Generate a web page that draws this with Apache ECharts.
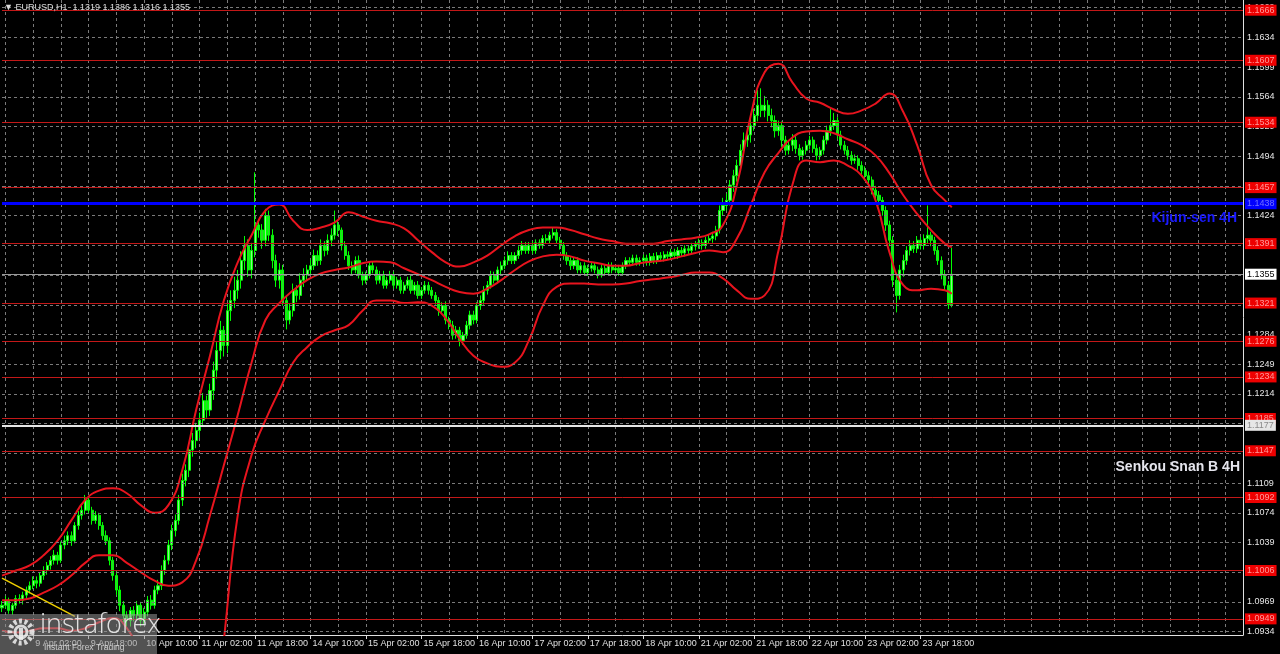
<!DOCTYPE html>
<html><head><meta charset="utf-8">
<script src="https://cdn.jsdelivr.net/npm/echarts@6/dist/echarts.min.js"></script>
<style>html,body{margin:0;padding:0;background:#000;}#c{width:1280px;height:654px;}</style>
</head><body><div id="c"></div>
<script>
// EURUSD H1 candles, prices x 10000
const opens = [10962,10965,10971,10959,10965,10973,10971,10977,10983,10988,
10994,10991,11000,11006,11012,11018,11024,11018,11036,11041,
11047,11041,11059,11071,11077,11089,11077,11065,11071,11059,
11047,11041,11018,11000,10983,10965,10953,10947,10959,10953,
10965,10947,10957,10971,10965,10983,10988,11006,11018,11036,
11053,11065,11089,11112,11124,11148,11159,11171,11183,11206,
11195,11218,11242,11265,11289,11271,11312,11324,11336,11348,
11371,11389,11360,11383,11413,11407,11395,11424,11401,11371,
11348,11360,11324,11301,11312,11336,11330,11348,11354,11360,
11365,11377,11371,11389,11383,11395,11401,11413,11407,11389,
11377,11365,11360,11371,11354,11348,11354,11365,11360,11348,
11354,11342,11348,11354,11342,11348,11336,11342,11348,11336,
11342,11330,11336,11342,11336,11330,11324,11312,11318,11301,
11295,11283,11289,11277,11283,11295,11307,11301,11318,11324,
11336,11342,11354,11348,11360,11365,11371,11377,11371,11377,
11383,11389,11383,11389,11383,11392,11389,11397,11395,11401,
11404,11395,11389,11377,11371,11365,11371,11360,11365,11357,
11362,11365,11360,11354,11362,11357,11365,11360,11362,11357,
11365,11371,11369,11374,11369,11371,11374,11369,11376,11371,
11377,11374,11378,11376,11381,11377,11383,11380,11385,11383,
11388,11390,11392,11389,11395,11397,11400,11407,11430,11436,
11442,11460,11471,11483,11501,11513,11519,11530,11542,11554,
11548,11554,11542,11536,11524,11530,11513,11501,11507,11513,
11503,11495,11501,11507,11513,11503,11495,11501,11513,11524,
11530,11536,11519,11507,11501,11495,11489,11491,11483,11477,
11471,11466,11454,11448,11442,11430,11413,11395,11348,11330,
11360,11371,11383,11389,11385,11395,11389,11397,11401,11395,
11383,11371,11354,11342,11319];
const highs = [10970,10976,10974,10968,10977,10978,10981,10987,10993,10999,
10999,11004,11011,11016,11023,11030,11028,11040,11047,11052,
11052,11063,11076,11083,11095,11092,11081,11076,11074,11063,
11053,11045,11022,11005,10988,10970,10958,10963,10964,10970,
10969,10962,10976,10977,10988,10995,11012,11024,11042,11060,
11072,11095,11120,11131,11156,11168,11180,11192,11215,11212,
11226,11252,11275,11300,11294,11320,11336,11352,11360,11382,
11400,11396,11392,11475,11420,11414,11432,11430,11408,11378,
11368,11366,11330,11320,11344,11342,11356,11362,11366,11372,
11384,11383,11396,11394,11402,11409,11430,11418,11410,11394,
11382,11370,11376,11377,11358,11358,11370,11370,11364,11359,
11359,11352,11359,11358,11352,11352,11346,11352,11353,11346,
11347,11340,11347,11346,11340,11334,11328,11322,11323,11305,
11300,11294,11293,11287,11300,11312,11312,11322,11330,11341,
11347,11359,11358,11364,11370,11376,11382,11381,11381,11388,
11394,11393,11393,11394,11396,11396,11401,11402,11405,11410,
11408,11399,11393,11381,11375,11375,11375,11369,11369,11366,
11369,11369,11364,11366,11366,11369,11369,11366,11366,11369,
11375,11375,11378,11378,11375,11378,11378,11380,11380,11381,
11381,11382,11382,11385,11385,11387,11387,11389,11389,11392,
11394,11397,11396,11399,11402,11405,11412,11436,11445,11450,
11466,11478,11490,11508,11522,11528,11538,11550,11572,11574,
11565,11560,11550,11542,11536,11535,11518,11512,11520,11518,
11508,11505,11512,11518,11517,11508,11505,11518,11530,11550,
11545,11540,11524,11512,11506,11500,11496,11495,11488,11482,
11476,11470,11459,11453,11446,11435,11418,11400,11356,11366,
11378,11388,11395,11394,11400,11399,11402,11436,11405,11399,
11388,11376,11360,11347,11386];
const lows = [10957,10961,10955,10954,10961,10967,10966,10972,10979,10984,
10985,10987,10995,11001,11007,11013,11013,11015,11031,11036,
11035,11038,11054,11066,11072,11073,11060,11061,11054,11042,
11036,11012,10994,10977,10958,10945,10937,10940,10946,10948,
10940,10942,10952,10960,10961,10978,10983,11001,11013,11030,
11046,11060,11082,11105,11116,11140,11150,11162,11176,11186,
11188,11207,11232,11255,11258,11262,11300,11315,11326,11338,
11360,11352,11350,11375,11398,11385,11388,11394,11362,11340,
11338,11318,11290,11296,11305,11322,11325,11340,11347,11353,
11360,11365,11366,11376,11378,11388,11396,11400,11383,11372,
11360,11354,11356,11350,11342,11344,11350,11356,11343,11344,
11338,11338,11344,11338,11338,11332,11332,11338,11332,11331,
11326,11326,11332,11331,11326,11319,11306,11308,11296,11290,
11278,11279,11270,11272,11279,11290,11296,11297,11313,11319,
11331,11338,11344,11344,11355,11361,11366,11367,11367,11373,
11378,11379,11379,11379,11379,11385,11385,11391,11391,11397,
11391,11384,11372,11366,11360,11361,11356,11356,11353,11353,
11358,11356,11350,11351,11353,11353,11356,11357,11353,11353,
11361,11365,11365,11365,11365,11367,11365,11365,11367,11367,
11370,11370,11372,11372,11373,11373,11376,11376,11379,11379,
11383,11385,11384,11385,11391,11392,11395,11403,11424,11430,
11436,11452,11464,11476,11494,11505,11510,11524,11535,11540,
11540,11535,11528,11516,11518,11505,11495,11496,11500,11497,
11489,11490,11496,11502,11498,11489,11490,11496,11508,11518,
11525,11514,11502,11496,11490,11484,11485,11478,11472,11465,
11460,11449,11442,11436,11424,11406,11388,11340,11310,11325,
11352,11366,11377,11380,11380,11384,11384,11391,11388,11378,
11366,11349,11336,11314,11316];
const closes = [10965,10971,10959,10965,10973,10971,10977,10983,10988,10994,
10991,11000,11006,11012,11018,11024,11018,11036,11041,11047,
11041,11059,11071,11077,11089,11077,11065,11071,11059,11047,
11041,11018,11000,10983,10965,10953,10947,10959,10953,10965,
10947,10957,10971,10965,10983,10988,11006,11018,11036,11053,
11065,11089,11112,11124,11148,11159,11171,11183,11206,11195,
11218,11242,11265,11289,11271,11312,11324,11336,11348,11371,
11389,11360,11383,11413,11407,11395,11424,11401,11371,11348,
11360,11324,11301,11312,11336,11330,11348,11354,11360,11365,
11377,11371,11389,11383,11395,11401,11413,11407,11389,11377,
11365,11360,11371,11354,11348,11354,11365,11360,11348,11354,
11342,11348,11354,11342,11348,11336,11342,11348,11336,11342,
11330,11336,11342,11336,11330,11324,11312,11318,11301,11295,
11283,11289,11277,11283,11295,11307,11301,11318,11324,11336,
11342,11354,11348,11360,11365,11371,11377,11371,11377,11383,
11389,11383,11389,11383,11392,11389,11397,11395,11401,11404,
11395,11389,11377,11371,11365,11371,11360,11365,11357,11362,
11365,11360,11354,11362,11357,11365,11360,11362,11357,11365,
11371,11369,11374,11369,11371,11374,11369,11376,11371,11377,
11374,11378,11376,11381,11377,11383,11380,11385,11383,11388,
11390,11392,11389,11395,11397,11400,11407,11430,11436,11442,
11460,11471,11483,11501,11513,11519,11530,11542,11554,11548,
11554,11542,11536,11524,11530,11513,11501,11507,11513,11503,
11495,11501,11507,11513,11503,11495,11501,11513,11524,11530,
11536,11519,11507,11501,11495,11489,11491,11483,11477,11471,
11466,11454,11448,11442,11430,11413,11395,11348,11330,11360,
11371,11383,11389,11385,11395,11389,11397,11401,11395,11383,
11371,11354,11342,11319,11355];

// Red envelope (upper / middle / lower), sampled bars, prices x 10000
const bandBars = [0,4,8,12,16,20,24,28,32,36,40,44,48,52,56,60,64,68,72,76,
80,84,88,92,96,100,104,108,112,116,120,124,128,132,136,140,144,148,152,156,
160,164,168,172,176,180,184,188,192,196,200,204,208,212,216,220,224,228,232,236,
240,244,248,252,256,260,264,268,272,274];
const upperBand = [11000,11006,11012,11024,11041,11065,11089,11100,11103,11097,
11083,11074,11083,11124,11195,11259,11324,11369,11401,11430,
11437,11418,11407,11410,11416,11428,11423,11418,11415,11409,
11395,11381,11369,11364,11369,11377,11389,11400,11407,11410,
11410,11407,11402,11397,11394,11391,11391,11391,11394,11396,
11398,11402,11413,11460,11542,11593,11603,11581,11562,11557,
11549,11544,11548,11556,11568,11546,11507,11460,11442,11434];
const middleBand = [10971,10971,10973,10980,10988,11000,11015,11024,11024,11015,
11004,10994,10988,10992,11018,11071,11130,11189,11251,11301,
11321,11336,11348,11356,11360,11363,11368,11370,11369,11362,
11355,11348,11340,11334,11332,11338,11348,11360,11370,11376,
11378,11376,11371,11368,11365,11365,11368,11370,11372,11376,
11380,11383,11381,11397,11436,11475,11498,11516,11523,11524,
11521,11514,11507,11495,11474,11448,11426,11407,11391,11387];
const lowerBand = [10935,10933,10935,10938,10938,10935,10938,10945,10950,10938,
10905,10853,10806,10759,10735,10782,10924,11071,11142,11183,
11218,11251,11269,11282,11289,11295,11312,11324,11324,11321,
11322,11318,11303,11279,11259,11250,11246,11251,11277,11318,
11340,11344,11344,11343,11343,11344,11347,11349,11351,11354,
11357,11357,11350,11336,11326,11330,11383,11460,11489,11487,
11489,11483,11471,11442,11381,11342,11336,11338,11336,11332];

// Yellow trend line
const trendBars = [0, 21];
const trendValues = [10997, 10952];

// Axis
const totalSlots = 359;
const timeLabelBars = [9,25,41,57,73,89,105,121,137,153,169,185,201,217,233,249,265];
const timeLabels = ['9 Apr 02:00','9 Apr 18:00','10 Apr 10:00','11 Apr 02:00','11 Apr 18:00','14 Apr 10:00',
'15 Apr 02:00','15 Apr 18:00','16 Apr 10:00','17 Apr 02:00','17 Apr 18:00','18 Apr 10:00',
'21 Apr 02:00','21 Apr 18:00','22 Apr 10:00','23 Apr 02:00','23 Apr 18:00'];
const priceTicks = [1.0934,1.0969,1.1004,1.1039,1.1074,1.1109,1.1144,1.1179,1.1214,1.1249,1.1284,
1.1319,1.1354,1.1389,1.1424,1.1459,1.1494,1.1529,1.1564,1.1599,1.1634,1.1669];

// Horizontal levels
const redLevels = [1.1666,1.1607,1.1534,1.1457,1.1391,1.1321,1.1276,1.1234,1.1185,1.1147,1.1092,1.1006,1.0949];
const kijunLevel = 1.1438;
const senkouLevel = 1.1177;
const lastPrice = 1.1355;
const kijunName = 'Kijun-sen 4H';
const senkouName = 'Senkou Snan B 4H';
const headerText = '\u25BC EURUSD,H1  1.1319 1.1386 1.1316 1.1355';

const S = v => v / 10000;
const categories = Array.from({length: totalSlots}, (_, i) => 'b' + i);
const candleData = closes.map((c, i) => [S(opens[i]), S(c), S(lows[i]), S(highs[i])]);
const band = arr => bandBars.map((b, i) => [b, S(arr[i])]);

const chart = echarts.init(document.getElementById('c'), null, {renderer: 'canvas'});
const FONT = 'Liberation Sans';
const isLabelBar = idx => timeLabelBars.indexOf(idx) >= 0;

const boxLabel = (bg, fg) => ({
  show: true, position: 'end', distance: 2, fontSize: 9, fontFamily: FONT,
  color: fg, backgroundColor: bg, padding: [1, 2, 1, 2],
  formatter: p => Number(p.value).toFixed(4)
});

const option = {
  backgroundColor: '#000000',
  animation: false,
  grid: {left: 2, right: 37, top: 0, bottom: 19, containLabel: false},
  xAxis: {
    type: 'category', data: categories, boundaryGap: false,
    axisLine: {show: true, lineStyle: {color: '#e0e0e0', width: 1}},
    axisTick: {show: true, interval: (i) => isLabelBar(i), length: 4, lineStyle: {color: '#e0e0e0'}},
    axisLabel: {
      show: true, interval: (i) => isLabelBar(i), align: 'left', margin: 4,
      color: '#e0e0e0', fontSize: 9, fontFamily: FONT, padding: [0, 0, 0, 2],
      formatter: (v, i) => timeLabels[timeLabelBars.indexOf(i)] || ''
    },
    splitLine: {show: true, interval: (i) => (i - 1) % 8 === 0, lineStyle: {color: '#7a7a7a', type: [3, 3], width: 1}}
  },
  yAxis: {
    type: 'value', position: 'right', min: 1.0930, max: 1.1678, scale: true,
    axisLine: {show: true, lineStyle: {color: '#e0e0e0', width: 1}},
    axisTick: {show: false}, axisLabel: {show: false}, splitLine: {show: false}
  },
  series: [
    {
      type: 'line', name: 'grid', data: [], z: 1, silent: true,
      markLine: {
        silent: true, symbol: 'none', animation: false, precision: 4,
        lineStyle: {color: '#7a7a7a', type: [3, 3], width: 1},
        label: {show: true, position: 'end', distance: 4, color: '#e6e6e6', fontSize: 9, fontFamily: FONT,
          formatter: p => Number(p.value).toFixed(4)},
        data: priceTicks.map(v => ({yAxis: v}))
      }
    },
    {
      type: 'candlestick', name: 'EURUSD,H1', data: candleData, z: 3, barMaxWidth: 3, barWidth: 2.6,
      itemStyle: {color: '#8cf08c', color0: '#2ed22e', borderColor: '#00ff00', borderColor0: '#00ff00', borderWidth: 1}
    },
    {
      type: 'line', name: 'upper', data: band(upperBand), smooth: true, showSymbol: false, z: 4,
      lineStyle: {color: '#e8141e', width: 2}
    },
    {
      type: 'line', name: 'middle', data: band(middleBand), smooth: true, showSymbol: false, z: 4,
      lineStyle: {color: '#e8141e', width: 2}
    },
    {
      type: 'line', name: 'lower', data: band(lowerBand), smooth: true, showSymbol: false, z: 4,
      lineStyle: {color: '#e8141e', width: 2}
    },
    {
      type: 'line', name: 'trend', data: trendBars.map((b, i) => [b, S(trendValues[i])]), showSymbol: false, z: 4,
      lineStyle: {color: '#f0d000', width: 1.5}
    },
    {
      type: 'line', name: 'levels', data: [], z: 5, silent: true,
      markLine: {
        silent: true, symbol: 'none', animation: false, precision: 4,
        lineStyle: {color: '#c31818', type: 'solid', width: 1},
        label: boxLabel('#ee0000', '#ff9a9a'),
        data: redLevels.map(v => ({yAxis: v}))
      }
    },
    {
      type: 'line', name: 'ichimoku', data: [], z: 6, silent: true,
      markLine: {
        silent: true, symbol: 'none', animation: false, precision: 4,
        data: [
          {yAxis: kijunLevel, lineStyle: {color: '#0000ff', width: 3, type: 'solid'}, label: boxLabel('#0000ff', '#7070ff')},
          {yAxis: senkouLevel, lineStyle: {color: '#e6e6e6', width: 2, type: 'solid'}, label: boxLabel('#e6e6e6', '#8a8a8a')}
        ]
      }
    },
    {
      type: 'line', name: 'last', data: [], z: 7, silent: true,
      markLine: {
        silent: true, symbol: 'none', animation: false, precision: 4,
        lineStyle: {color: '#9a9a9a', width: 1, type: 'solid'},
        label: boxLabel('#ffffff', '#000000'),
        data: [{yAxis: lastPrice}]
      }
    }
  ],
  graphic: [
    {type: 'text', left: 4, top: 3, z: 50, style: {text: headerText, fill: '#dcdcdc', font: '9px "Liberation Sans"'}},
    {type: 'rect', left: 0, top: 614, z: 100, shape: {width: 157, height: 40}, style: {fill: 'rgba(150,150,150,0.55)'}},
    {type: 'circle', z: 101, shape: {cx: 21, cy: 632, r: 11}, style: {fill: 'none', stroke: 'rgba(240,240,240,0.85)', lineWidth: 5, lineDash: [3, 2.5]}},
    {type: 'circle', z: 101, shape: {cx: 21, cy: 632, r: 6}, style: {fill: 'none', stroke: 'rgba(240,240,240,0.85)', lineWidth: 3}},
    {type: 'rect', z: 101, shape: {x: 19, y: 628, width: 4, height: 12}, style: {fill: 'rgba(240,240,240,0.85)'}},
    {type: 'text', left: 40, top: 612, z: 101, style: {text: 'instaforex', fill: 'rgba(240,240,240,0.9)', font: '300 27px "Open Sans"'}},
    {type: 'text', left: 44, top: 643, z: 101, style: {text: 'Instant Forex Trading', fill: 'rgba(225,225,225,0.85)', font: '8.5px "Liberation Sans"'}}
  ]
};
chart.setOption(option);

// Level captions placed through the y scale
const kY = chart.convertToPixel({yAxisIndex: 0}, kijunLevel);
const sY = chart.convertToPixel({yAxisIndex: 0}, senkouLevel);
const rightEdge = chart.convertToPixel({xAxisIndex: 0}, categories[totalSlots - 1]);
chart.setOption({
  graphic: option.graphic.concat([
    {type: 'text', z: 60, x: rightEdge - 6, y: kY + 7,
      style: {text: kijunName, fill: '#1a1aff', font: 'bold 14px "Liberation Sans"', align: 'right', verticalAlign: 'top'}},
    {type: 'text', z: 60, x: rightEdge - 3, y: sY + 35,
      style: {text: senkouName, fill: '#e4e4ec', font: 'bold 14px "Liberation Sans"', align: 'right', verticalAlign: 'top'}}
  ])
});
</script>
</body></html>
